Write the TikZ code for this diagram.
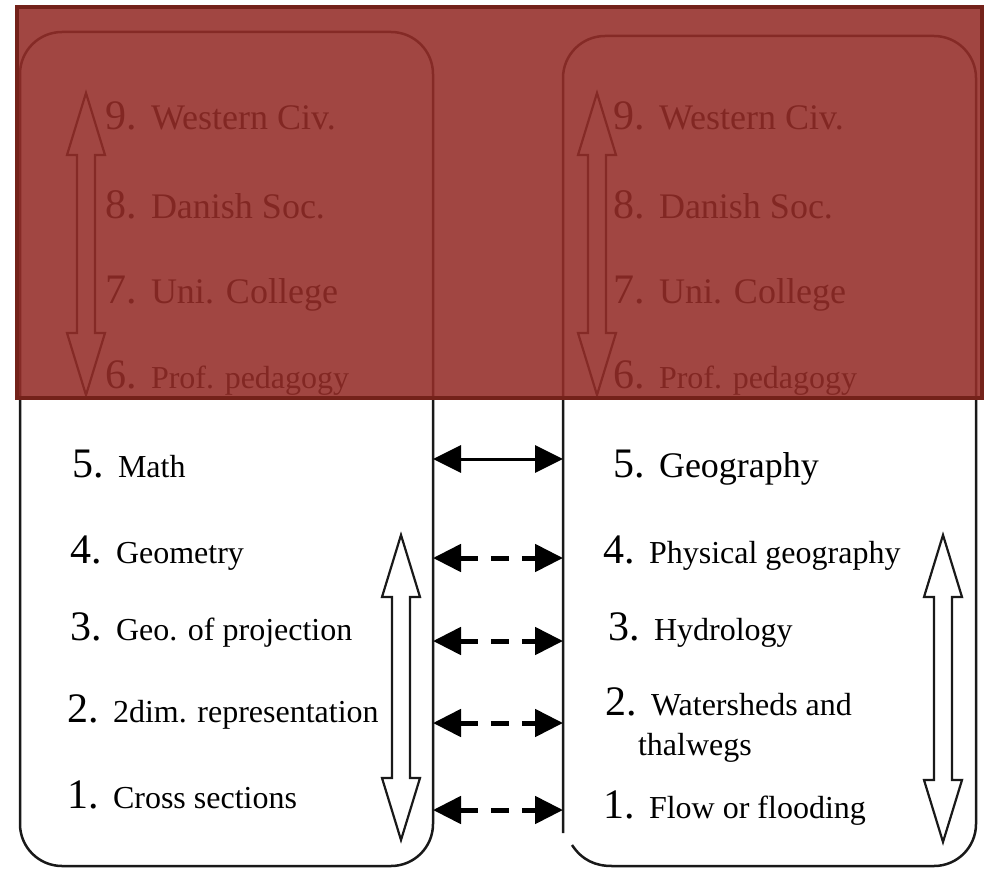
\documentclass[tikz,border=0pt]{standalone}
\usepackage{fontspec}
\setmainfont{Liberation Serif}
\usetikzlibrary{arrows.meta}
\definecolor{veil}{RGB}{148,45,40}
\definecolor{veilline}{RGB}{116,34,26}
\definecolor{ink}{RGB}{25,25,25}
\newcommand\nm[1]{\makebox[46pt][l]{\fontsize{42}{48}\selectfont #1}}
\newcommand\lb[1]{{\fontsize{32}{38}\selectfont #1}}
\newcommand\lbb[1]{{\fontsize{36}{42}\selectfont #1}}
\newcommand\hollowv[3]{\draw[hollow] (#1,#2) -- (#1+19,#2+62) -- (#1+9,#2+62) -- (#1+9,#3-62) -- (#1+19,#3-62) -- (#1,#3) -- (#1-19,#3-62) -- (#1-9,#3-62) -- (#1-9,#2+62) -- (#1-19,#2+62) -- cycle;}
\begin{document}
\begin{tikzpicture}[x=1pt,y=-1pt,
  box/.style={draw=ink, line width=2.5pt, rounded corners=42pt, inner sep=0pt, outer sep=0pt},
  outline/.style={draw=ink, line width=2.5pt},
  item/.style={anchor=base west, inner sep=0pt, outer sep=0pt, text=black},
  link/.style={draw=black, line width=3pt, {Triangle[length=28pt,width=27pt]}-{Triangle[length=28pt,width=27pt]}},
  dlink/.style={link, line width=5pt, dash pattern=on 18pt off 13pt},
  hollow/.style={draw=ink, line width=2.2pt, fill=white, line join=miter}]
\useasboundingbox (0,0) rectangle (984,869);
\fill[white] (0,0) rectangle (984,869);
% boxes
\node[box, minimum width=413pt, minimum height=834pt] (lbox) at (226.5,449) {};
\node[inner sep=0pt, outer sep=0pt, minimum width=413pt, minimum height=830pt] (rbox) at (769.5,451) {};
\draw[outline, rounded corners=42pt] (rbox.west |- 0,833) -- (rbox.north west) -- (rbox.north east) -- (rbox.south east) -- (612,866);
\draw[outline] (572,845) .. controls (582,860) and (595,866) .. (612,866);
% hollow double arrows
\hollowv{86}{93}{395}
\hollowv{597}{93}{395}
\hollowv{401}{535}{840}
\hollowv{943}{535}{842}
% upper items (left)
\node[item] (l9) at (105,130) {\nm{9.}\lbb{Western Civ.}};
\node[item] (l8) at (105,218) {\nm{8.}\lbb{Danish Soc.}};
\node[item] (l7) at (105,303) {\nm{7.}\lbb{Uni. College}};
\node[item] (l6) at (105,388) {\nm{6.}\lb{Prof. pedagogy}};
% upper items (right)
\node[item] (r9) at (613,130) {\nm{9.}\lbb{Western Civ.}};
\node[item] (r8) at (613,218) {\nm{8.}\lbb{Danish Soc.}};
\node[item] (r7) at (613,303) {\nm{7.}\lbb{Uni. College}};
\node[item] (r6) at (613,388) {\nm{6.}\lb{Prof. pedagogy}};
% lower items (left)
\node[item] (l5) at (72,477) {\nm{5.}\lb{Math}};
\node[item] (l4) at (70,563) {\nm{4.}\lb{Geometry}};
\node[item] (l3) at (70,640) {\nm{3.}\lb{Geo. of projection}};
\node[item] (l2) at (67,722) {\nm{2.}\lb{2dim. representation}};
\node[item] (l1) at (67,808) {\nm{1.}\lb{Cross sections}};
% lower items (right)
\node[item] (r5) at (613,477) {\nm{5.}\lbb{Geography}};
\node[item] (r4) at (603,563) {\nm{4.}\lb{Physical geography}};
\node[item] (r3) at (608,640) {\nm{3.}\lb{Hydrology}};
\node[item] (r2) at (605,715) {\vtop{\baselineskip=40pt\lineskiplimit=-100pt
  \hbox{\nm{2.}\lb{Watersheds and}}\hbox{\hspace*{33pt}\lb{thalwegs}}}};
\node[item] (r1) at (603,818) {\nm{1.}\lb{Flow or flooding}};
% connectors
\coordinate (y5) at (0,459);
\coordinate (y4) at (0,558);
\coordinate (y3) at (0,641);
\coordinate (y2) at (0,723);
\coordinate (y1) at (0,810);
\draw[link] (lbox.east |- y5) -- (rbox.west |- y5);
\draw[dlink] (lbox.east |- y4) -- (rbox.west |- y4);
\draw[dlink] (lbox.east |- y3) -- (rbox.west |- y3);
\draw[dlink] (lbox.east |- y2) -- (rbox.west |- y2);
\draw[dlink] (lbox.east |- y1) -- (rbox.west |- y1);
% red veil over the upper part
\fill[veil, fill opacity=0.88] (17,7) rectangle (982,398);
\draw[veilline, line width=4pt] (17,7) rectangle (982,398);
\end{tikzpicture}
\end{document}
